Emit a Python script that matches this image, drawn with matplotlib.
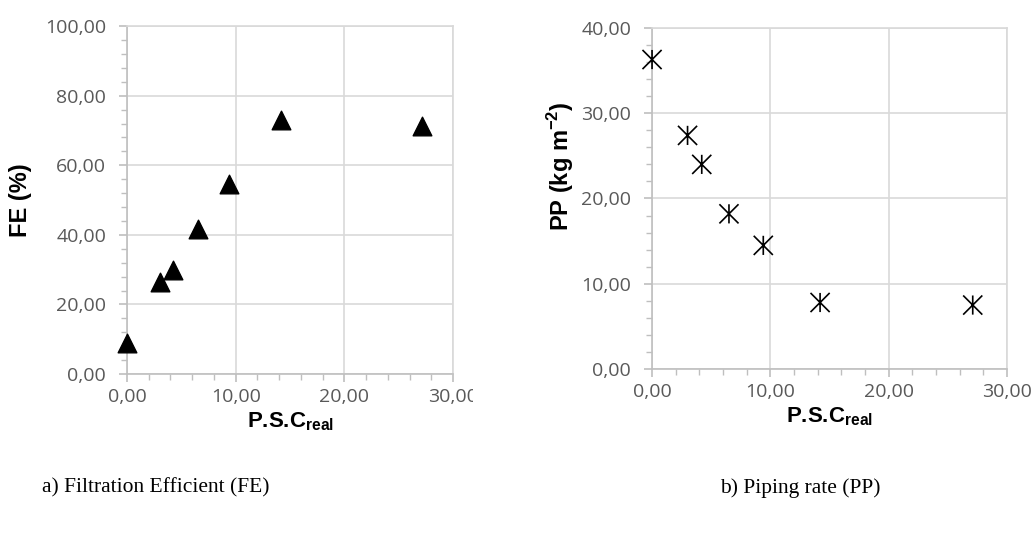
"""
FE and PP versus P.S.C real, two scatter panels
"""

import matplotlib
matplotlib.use("Agg")
import matplotlib.pyplot as plt
from matplotlib.path import Path
from matplotlib.ticker import MultipleLocator, FuncFormatter
from matplotlib.transforms import Bbox

# data
psc = [0.0, 3.0, 4.2, 6.5, 9.4, 14.2, 27.1]
fe = [9.0, 26.5, 29.8, 41.6, 54.5, 73.0, 71.2]
pp = [36.3, 27.4, 24.0, 18.2, 14.5, 7.8, 7.5]

x_label = r"P.S.C$_{\mathbf{real}}$"
fe_label = "FE (%)"
pp_label = r"PP (kg m$^{\mathbf{-2}}$)"
caption_a = "a) Filtration Efficient (FE)"
caption_b = "b) Piping rate (PP)"

plt.rcParams["mathtext.fontset"] = "custom"
plt.rcParams["mathtext.bf"] = "Liberation Sans:bold"
plt.rcParams["mathtext.rm"] = "Liberation Sans"

tick_col = "#595959"
grid_col = "#d9d9d9"
spine_col = "#bfbfbf"

# Excel style star: X plus a vertical bar
star = Path([(0, -1), (0, 1), (-1, -1), (1, 1), (-1, 1), (1, -1)],
            [Path.MOVETO, Path.LINETO] * 3)


def comma_fmt(v, pos):
    return ("%.2f" % v).replace(".", ",")


def style_axes(ax, ymax, ymajor, yminor):
    ax.set_xlim(0, 30)
    ax.set_ylim(0, ymax)
    ax.xaxis.set_major_locator(MultipleLocator(10))
    ax.xaxis.set_minor_locator(MultipleLocator(2))
    ax.yaxis.set_major_locator(MultipleLocator(ymajor))
    ax.yaxis.set_minor_locator(MultipleLocator(yminor))
    ax.xaxis.set_major_formatter(FuncFormatter(comma_fmt))
    ax.yaxis.set_major_formatter(FuncFormatter(comma_fmt))
    ax.grid(True, which="major", color=grid_col, linewidth=1.2)
    ax.set_axisbelow(True)
    for side in ["top", "right"]:
        ax.spines[side].set_color(grid_col)
        ax.spines[side].set_linewidth(1.2)
    for side in ["left", "bottom"]:
        ax.spines[side].set_color(spine_col)
        ax.spines[side].set_linewidth(1.2)
    ax.tick_params(which="major", length=6, color=spine_col, width=1.2,
                   labelcolor=tick_col, labelsize=14)
    ax.tick_params(axis="y", which="major", pad=9)
    ax.tick_params(axis="x", which="major", pad=4)
    ax.tick_params(which="minor", length=4, color=spine_col, width=1.0)
    for lab in ax.get_xticklabels() + ax.get_yticklabels():
        lab.set_fontfamily("Open Sans")


fig = plt.figure(figsize=(10.35, 5.34), dpi=100)

# a) Filtration efficiency
ax1 = fig.add_axes([0.1227, 0.2996, 0.315, 0.6514])
ax1.scatter(psc, fe, marker="^", s=180, color="black", zorder=3,
            clip_on=False)
style_axes(ax1, 100, 20, 4)
ax1.set_xlabel(x_label, fontsize=16, fontweight="bold",
               fontfamily="Liberation Sans", labelpad=3)
ax1.set_ylabel(fe_label, fontsize=17, fontweight="bold",
               fontfamily="Liberation Sans")
ax1.yaxis.set_label_coords(-0.29, 0.5)

# the last x label is cut at the panel edge in the reference
clip = Bbox.from_extents(0, 0, 473, 534)
for lab in ax1.get_xticklabels():
    lab.set_clip_on(True)
    lab.set_clip_box(clip)

# b) Piping rate
ax2 = fig.add_axes([0.630, 0.309, 0.343, 0.6386])
ax2.scatter(psc, pp, marker=star, s=190, facecolor="none",
            edgecolor="black", linewidths=1.2, zorder=3, clip_on=False)
style_axes(ax2, 40, 10, 2)
ax2.set_xlabel(x_label, fontsize=16, fontweight="bold",
               fontfamily="Liberation Sans", labelpad=3)
ax2.set_ylabel(pp_label, fontsize=17, fontweight="bold",
               fontfamily="Liberation Sans")
ax2.yaxis.set_label_coords(-0.214, 0.595)

fig.text(42 / 1035, 1 - 488 / 534, caption_a, fontsize=15.5,
         fontfamily="Liberation Serif", va="center", ha="left")
fig.text(720 / 1035, 1 - 488 / 534, caption_b, fontsize=15.5,
         fontfamily="Liberation Serif", va="center", ha="left")

fig.savefig("out.png", dpi=100)
